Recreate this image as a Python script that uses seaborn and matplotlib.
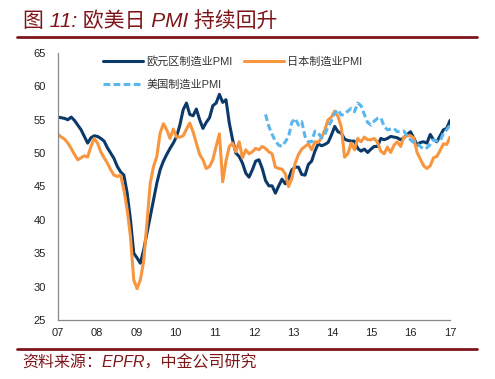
import numpy as np
import pandas as pd
import seaborn as sns
import matplotlib
matplotlib.use("Agg")
import matplotlib.pyplot as plt
from matplotlib.lines import Line2D

# monthly PMI, Jan 2007 - Dec 2016
eurozone = [
    55.4, 55.3, 55.2, 55.0, 55.4, 54.9, 54.2, 53.5, 52.5, 51.5, 52.3, 52.6,   # 2007
    52.5, 52.2, 51.8, 50.8, 50.0, 49.2, 48.0, 47.2, 46.7, 44.0, 40.0, 35.0,   # 2008
    34.3, 33.5, 35.5, 38.0, 40.5, 43.0, 45.5, 47.5, 48.8, 49.8, 50.7, 51.5,   # 2009
    52.5, 54.2, 56.5, 57.5, 55.8, 55.6, 56.6, 55.0, 53.7, 54.6, 55.3, 57.1,   # 2010
    57.5, 58.8, 57.6, 58.0, 54.5, 52.0, 50.0, 49.5, 48.5, 47.0, 46.4, 47.5,   # 2011
    48.8, 49.0, 47.7, 45.9, 45.1, 45.1, 44.0, 45.1, 46.1, 45.4, 46.2, 47.5,   # 2012
    47.9, 47.9, 46.8, 46.7, 48.3, 48.8, 50.3, 51.4, 51.1, 51.3, 51.6, 52.7,   # 2013
    54.0, 53.2, 53.0, 52.1, 51.9, 51.8, 51.8, 50.7, 50.3, 50.6, 50.1, 50.6,   # 2014
    51.0, 51.0, 52.2, 52.0, 52.2, 52.5, 52.4, 52.3, 52.0, 52.3, 52.8, 53.2,   # 2015
    52.3, 51.2, 51.6, 51.7, 51.5, 52.8, 52.0, 51.7, 52.6, 53.5, 53.7, 54.9,   # 2016
]
japan = [
    52.8, 52.4, 52.1, 51.5, 50.7, 49.8, 49.0, 49.3, 49.6, 49.4, 51.0, 52.2,
    51.5, 50.2, 49.3, 48.5, 47.5, 46.7, 46.5, 46.7, 44.5, 41.5, 37.5, 31.0,
    29.7, 31.0, 33.8, 39.5, 45.5, 48.0, 49.5, 53.0, 54.4, 53.5, 52.2, 53.6,
    52.4, 52.4, 52.6, 53.6, 54.5, 53.2, 51.5, 49.8, 49.0, 47.7, 48.0, 49.0,
    51.0, 52.9, 45.7, 48.8, 51.0, 51.5, 50.2, 51.7, 49.3, 50.5, 49.9, 50.2,
    50.7, 50.5, 51.0, 50.7, 50.2, 49.9, 47.9, 47.7, 47.6, 46.9, 45.0, 46.2,
    48.5, 49.8, 50.6, 51.0, 51.4, 50.5, 51.7, 51.6, 52.3, 53.5, 55.0, 55.4,
    56.3, 55.5, 53.9, 49.4, 49.9, 51.5, 50.5, 52.2, 51.7, 52.4, 52.0, 52.0,
    52.2, 51.6, 50.3, 49.9, 50.9, 50.1, 51.2, 51.7, 51.0, 52.4, 52.6, 52.6,
    52.3, 50.1, 49.1, 48.1, 47.7, 48.1, 49.3, 49.5, 50.4, 51.4, 51.3, 52.4,
]
# US series starts in Apr 2012
us_start = 63
us = [
    55.8, 54.0, 52.8, 51.8, 51.2, 51.0, 51.7, 52.5, 54.6,
    55.2, 54.2, 54.7, 52.5, 51.7, 51.7, 53.3, 53.0, 52.3, 52.8, 54.0, 54.8,
    56.0, 56.5, 55.7, 55.8, 56.3, 56.7, 56.2, 57.5, 57.1, 55.8, 54.6, 54.2,
    54.8, 55.2, 55.3, 54.0, 53.5, 53.6, 53.7, 53.2, 53.3, 53.3, 52.6, 52.0,
    51.6, 51.4, 51.0, 50.6, 50.8, 51.3, 52.0, 51.8, 51.8, 53.0, 53.5, 54.2,
]
year_labels = ["07", "08", "09", "10", "11", "12", "13", "14", "15", "16", "17"]

names = ["欧元区制造业PMI", "日本制造业PMI", "美国制造业PMI"]
colors = {names[0]: "#0B3A6A", names[1]: "#F7963E", names[2]: "#5AB6EC"}
dashes = {names[0]: "", names[1]: "", names[2]: (2.2, 1.1)}

df = pd.concat([
    pd.DataFrame({"month": np.arange(len(eurozone)), "pmi": eurozone, "series": names[0]}),
    pd.DataFrame({"month": np.arange(len(japan)), "pmi": japan, "series": names[1]}),
    pd.DataFrame({"month": np.arange(us_start, us_start + len(us)), "pmi": us, "series": names[2]}),
])

sns.set_style("white")
plt.rcParams["font.family"] = ["Liberation Sans", "Noto Sans CJK SC"]

red = "#7E1518"
fig = plt.figure(figsize=(4.95, 3.79), dpi=100)
ax = fig.add_axes([58 / 495, 1 - 320 / 379, 392 / 495, 267 / 379])

sns.lineplot(data=df, x="month", y="pmi", hue="series", style="series",
             hue_order=names, style_order=names, palette=colors, dashes=dashes,
             linewidth=2.2, ax=ax, legend=False)

ax.set_xlim(0, 119)
ax.set_ylim(25, 65)
ax.set_xticks(np.linspace(0, 119, 11))
ax.set_xticklabels(year_labels)
ax.set_yticks(range(25, 70, 5))
ax.set_xlabel("")
ax.set_ylabel("")
ax.tick_params(axis="both", labelsize=8, colors="#222222", direction="in",
               length=3, width=0.8, color="#888888")
ax.tick_params(axis="x", pad=6)
ax.tick_params(axis="y", pad=9)
for s in ["top", "right"]:
    ax.spines[s].set_visible(False)
for s in ["left", "bottom"]:
    ax.spines[s].set_color("#888888")
    ax.spines[s].set_linewidth(0.9)

handles = [Line2D([], [], color=colors[names[0]], lw=2.2),
           Line2D([], [], color=colors[names[2]], lw=2.2, dashes=(2.2, 1.1)),
           Line2D([], [], color=colors[names[1]], lw=2.2)]
labels = [names[0], names[2], names[1]]
ax.legend(handles, labels, ncol=2, loc="upper left", bbox_to_anchor=(0.115, 0.99),
          frameon=False, fontsize=8, handlelength=3.6, handletextpad=0.3,
          columnspacing=1.0, labelspacing=1.1, borderpad=0, borderaxespad=0,
          labelcolor="#333333")

fig.text(23 / 495, 1 - 21 / 379, "图 11: 欧美日 PMI 持续回升", color=red, fontsize=15,
         fontstyle="italic", va="center", ha="left")
fig.add_artist(Line2D([17 / 495, 477 / 495], [1 - 37 / 379, 1 - 37 / 379], color=red, lw=2))
fig.add_artist(Line2D([17 / 495, 477 / 495], [1 - 349 / 379, 1 - 349 / 379], color=red, lw=2))
fig.text(22 / 495, 1 - 363 / 379, "资料来源：EPFR，中金公司研究", color=red, fontsize=11.5,
         fontstyle="italic", va="center", ha="left")

fig.savefig("out.png", dpi=100)
